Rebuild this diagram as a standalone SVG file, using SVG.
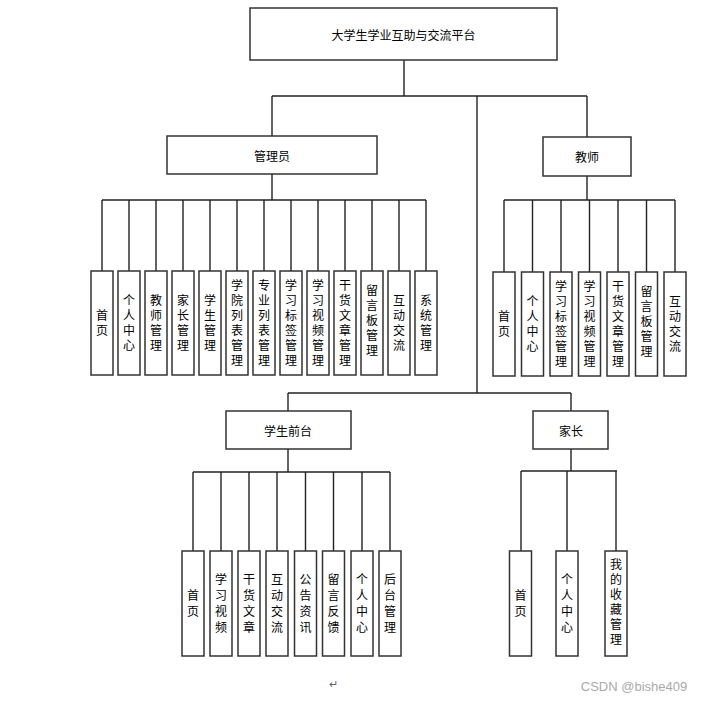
<svg xmlns="http://www.w3.org/2000/svg" width="703" height="701" viewBox="0 0 703 701">
<style>
rect{fill:#fff;stroke:#333;stroke-width:1.5}
.c line{stroke:#222;stroke-width:1.4;fill:none}
text{font-family:"Noto Sans CJK SC","Noto Sans",sans-serif;font-size:12px;fill:#000;text-anchor:middle}
.h{dominant-baseline:central}
.v{writing-mode:vertical-rl;letter-spacing:3px}
.w{letter-spacing:4px}
.wm{fill:#aaa;font-size:13px;font-family:"Liberation Sans",sans-serif}
</style>
<rect width="703" height="701" style="fill:#fff;stroke:none"/>
<g class="c" id="connectors">
<line x1="404" y1="60" x2="404" y2="96"/>
<line x1="272" y1="96" x2="587" y2="96"/>
<line x1="272" y1="96" x2="272" y2="136"/>
<line x1="587" y1="96" x2="587" y2="137"/>
<line x1="477" y1="96" x2="477" y2="393"/>
<line x1="272" y1="174" x2="272" y2="200"/>
<line x1="102" y1="200" x2="426" y2="200"/>
<line x1="102" y1="200" x2="102" y2="271"/><line x1="129" y1="200" x2="129" y2="271"/><line x1="156" y1="200" x2="156" y2="271"/><line x1="183" y1="200" x2="183" y2="271"/><line x1="210" y1="200" x2="210" y2="271"/><line x1="237" y1="200" x2="237" y2="271"/><line x1="264" y1="200" x2="264" y2="271"/><line x1="291" y1="200" x2="291" y2="271"/><line x1="318" y1="200" x2="318" y2="271"/><line x1="345" y1="200" x2="345" y2="271"/><line x1="372" y1="200" x2="372" y2="271"/><line x1="399" y1="200" x2="399" y2="271"/><line x1="426" y1="200" x2="426" y2="271"/>
<line x1="587" y1="176" x2="587" y2="200"/>
<line x1="504" y1="200" x2="675" y2="200"/>
<line x1="504" y1="200" x2="504" y2="272"/><line x1="532.5" y1="200" x2="532.5" y2="272"/><line x1="561" y1="200" x2="561" y2="272"/><line x1="589.5" y1="200" x2="589.5" y2="272"/><line x1="618" y1="200" x2="618" y2="272"/><line x1="646.5" y1="200" x2="646.5" y2="272"/><line x1="675" y1="200" x2="675" y2="272"/>
<line x1="288" y1="393" x2="571" y2="393"/>
<line x1="288" y1="393" x2="288" y2="411"/>
<line x1="571" y1="393" x2="571" y2="411"/>
<line x1="288" y1="449" x2="288" y2="472"/>
<line x1="193" y1="472" x2="390" y2="472"/>
<line x1="193" y1="472" x2="193" y2="551"/><line x1="221" y1="472" x2="221" y2="551"/><line x1="249" y1="472" x2="249" y2="551"/><line x1="277" y1="472" x2="277" y2="551"/><line x1="305.5" y1="472" x2="305.5" y2="551"/><line x1="333.5" y1="472" x2="333.5" y2="551"/><line x1="362" y1="472" x2="362" y2="551"/><line x1="390" y1="472" x2="390" y2="551"/>
<line x1="571" y1="449" x2="571" y2="471"/>
<line x1="521" y1="471" x2="617" y2="471"/>
<line x1="521" y1="471" x2="521" y2="551"/><line x1="567" y1="471" x2="567" y2="551"/><line x1="616" y1="471" x2="616" y2="551"/>
</g>
<g id="root"><rect x="250" y="8" width="307" height="52"/><text class="h" x="403.5" y="34">大学生学业互助与交流平台</text></g>
<g id="admin"><rect x="167" y="136" width="210" height="38"/><text class="h" x="272" y="155">管理员</text></g>
<g id="teacher"><rect x="543" y="137" width="88" height="39"/><text class="h" x="587" y="156">教师</text></g>
<g id="student"><rect x="226" y="411" width="125" height="38"/><text class="h" x="288" y="430">学生前台</text></g>
<g id="parent"><rect x="533" y="411" width="75" height="38"/><text class="h" x="571" y="430">家长</text></g>

<g id="a1"><rect x="91" y="271" width="22" height="104"/><text class="v" x="102" y="324.5">首页</text></g>
<g id="a2"><rect x="118" y="271" width="22" height="104"/><text class="v" x="129" y="324.5">个人中心</text></g>
<g id="a3"><rect x="145" y="271" width="22" height="104"/><text class="v" x="156" y="324.5">教师管理</text></g>
<g id="a4"><rect x="172" y="271" width="22" height="104"/><text class="v" x="183" y="324.5">家长管理</text></g>
<g id="a5"><rect x="199" y="271" width="22" height="104"/><text class="v" x="210" y="324.5">学生管理</text></g>
<g id="a6"><rect x="226" y="271" width="22" height="104"/><text class="v" x="237" y="324.5">学院列表管理</text></g>
<g id="a7"><rect x="253" y="271" width="22" height="104"/><text class="v" x="264" y="324.5">专业列表管理</text></g>
<g id="a8"><rect x="280" y="271" width="22" height="104"/><text class="v" x="291" y="324.5">学习标签管理</text></g>
<g id="a9"><rect x="307" y="271" width="22" height="104"/><text class="v" x="318" y="324.5">学习视频管理</text></g>
<g id="a10"><rect x="334" y="271" width="22" height="104"/><text class="v" x="345" y="324.5">干货文章管理</text></g>
<g id="a11"><rect x="361" y="271" width="22" height="104"/><text class="v" x="372" y="322">留言板管理</text></g>
<g id="a12"><rect x="388" y="271" width="22" height="104"/><text class="v" x="399" y="324.5">互动交流</text></g>
<g id="a13"><rect x="415" y="271" width="22" height="104"/><text class="v" x="426" y="324.5">系统管理</text></g>

<g id="t1"><rect x="493" y="272" width="22" height="104"/><text class="v" x="504" y="325.5">首页</text></g>
<g id="t2"><rect x="521.5" y="272" width="22" height="104"/><text class="v" x="532.5" y="325.5">个人中心</text></g>
<g id="t3"><rect x="550" y="272" width="22" height="104"/><text class="v" x="561" y="325.5">学习标签管理</text></g>
<g id="t4"><rect x="578.5" y="272" width="22" height="104"/><text class="v" x="589.5" y="325.5">学习视频管理</text></g>
<g id="t5"><rect x="607" y="272" width="22" height="104"/><text class="v" x="618" y="325.5">干货文章管理</text></g>
<g id="t6"><rect x="635.5" y="272" width="22" height="104"/><text class="v" x="646.5" y="323">留言板管理</text></g>
<g id="t7"><rect x="664" y="272" width="22" height="104"/><text class="v" x="675" y="325.5">互动交流</text></g>

<g id="s1"><rect x="182" y="551" width="22" height="105"/><text class="v w" x="193" y="605.5">首页</text></g>
<g id="s2"><rect x="210" y="551" width="22" height="105"/><text class="v w" x="221" y="605.5">学习视频</text></g>
<g id="s3"><rect x="238" y="551" width="22" height="105"/><text class="v w" x="249" y="605.5">干货文章</text></g>
<g id="s4"><rect x="266" y="551" width="22" height="105"/><text class="v w" x="277" y="605.5">互动交流</text></g>
<g id="s5"><rect x="294.5" y="551" width="22" height="105"/><text class="v w" x="305.5" y="605.5">公告资讯</text></g>
<g id="s6"><rect x="322.5" y="551" width="22" height="105"/><text class="v w" x="333.5" y="605.5">留言反馈</text></g>
<g id="s7"><rect x="351" y="551" width="22" height="105"/><text class="v w" x="362" y="605.5">个人中心</text></g>
<g id="s8"><rect x="379" y="551" width="22" height="105"/><text class="v w" x="390" y="605.5">后台管理</text></g>

<g id="p1"><rect x="509.5" y="551" width="22" height="105"/><text class="v w" x="520.5" y="605.5">首页</text></g>
<g id="p2"><rect x="556" y="551" width="22" height="105"/><text class="v w" x="567" y="605.5">个人中心</text></g>
<g id="p3"><rect x="605" y="551" width="22" height="105"/><text class="v" x="616" y="603.5">我的收藏管理</text></g>

<text x="333" y="688" style="font-size:11px;fill:#666">↵</text>
<text class="wm" x="634" y="691">CSDN @bishe409</text>
</svg>
